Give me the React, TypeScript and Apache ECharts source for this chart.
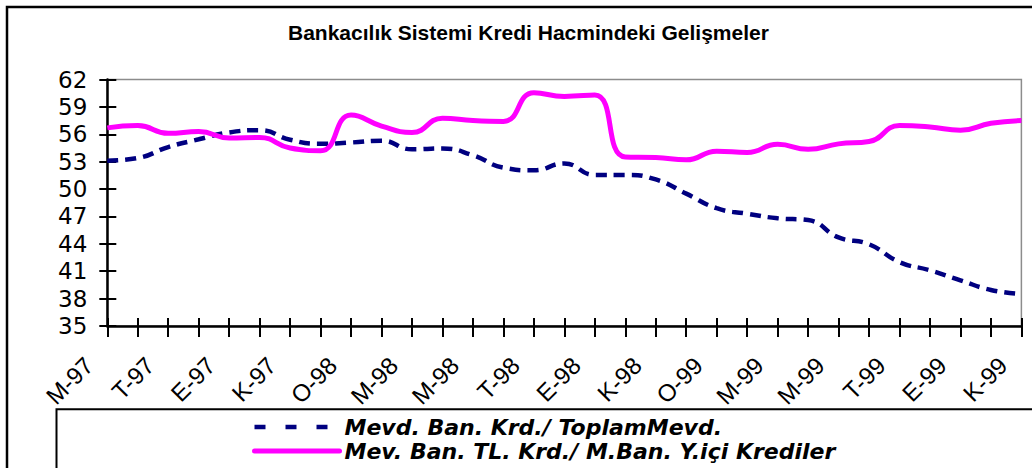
import React, { useEffect, useRef } from "react";
import * as echarts from "echarts";

const TITLE = "Bankacılık Sistemi Kredi Hacmindeki Gelişmeler";
const SERIES_A = "Mevd. Ban. Krd./ ToplamMevd.";
const SERIES_B = "Mev. Ban. TL. Krd./ M.Ban. Y.içi Krediler";

// Monthly categories, May-97 .. Nov-99 (Turkish month initials)
const months = [
  "M-97", "H-97", "T-97", "A-97", "E-97", "E-97", "K-97", "A-97",
  "O-98", "Ş-98", "M-98", "N-98", "M-98", "H-98", "T-98", "A-98", "E-98", "E-98", "K-98", "A-98",
  "O-99", "Ş-99", "M-99", "N-99", "M-99", "H-99", "T-99", "A-99", "E-99", "E-99", "K-99",
];

const mevdBanKrd = [
  53.1, 53.4, 54.6, 55.45, 56.2, 56.45, 55.4, 54.95, 55.1, 55.3, 54.35, 54.45,
  53.7, 52.35, 52.05, 52.8, 51.55, 51.55, 51.05, 49.5, 47.9, 47.3, 46.8, 46.6,
  44.7, 43.95, 42.0, 41.1, 40.0, 38.95, 38.5,
];

const mevBanTL = [
  56.7, 56.95, 56.1, 56.3, 55.6, 55.65, 54.5, 54.2, 58.1, 56.9, 56.2, 57.75,
  57.5, 57.4, 60.55, 60.15, 60.3, 53.5, 53.45, 53.2, 54.15, 54.0, 54.9, 54.35,
  54.95, 55.2, 56.95, 56.8, 56.45, 57.2, 57.5,
];

const yMin = 35;
const yMax = 62;
const yStep = 3;

const SANS = "'Liberation Sans', Arial, sans-serif";
const WIDE = "'DejaVu Sans', 'Liberation Sans', sans-serif";

export default function App() {
  const ref = useRef<HTMLDivElement>(null);

  useEffect(() => {
    document.body.style.margin = "0";
    const chart = echarts.init(ref.current as HTMLDivElement, null, { renderer: "svg" });
    const option: any = {
      animation: false,
      backgroundColor: "#ffffff",
      title: {
        text: TITLE,
        left: 288,
        top: 22,
        padding: 0,
        textStyle: { fontFamily: SANS, fontWeight: "bold", fontSize: 21, color: "#000" },
      },
      legend: {
        left: 252,
        top: 416,
        orient: "vertical",
        itemWidth: 85,
        itemHeight: 14,
        itemGap: 2,
        padding: 0,
        itemStyle: { opacity: 0 },
        textStyle: {
          fontFamily: WIDE,
          fontWeight: "bold",
          fontStyle: "italic",
          fontSize: 22,
          lineHeight: 22,
          color: "#000",
        },
        data: [
          {
            name: SERIES_A,
            itemStyle: { opacity: 0 },
            lineStyle: { type: [11, 20], width: 4.5, color: "#000080", cap: "butt" },
          },
          {
            name: SERIES_B,
            itemStyle: { opacity: 0 },
            lineStyle: { width: 5, color: "#ff00ff", cap: "round" },
          },
        ],
      },
      grid: {
        left: 107.3,
        right: 8.7,
        top: 79.5,
        bottom: 142,
        show: true,
        borderColor: "#8c8c8c",
        borderWidth: 1.5,
      },
      xAxis: [
        {
          type: "category",
          data: months,
          boundaryGap: false,
          position: "bottom",
          axisLine: { lineStyle: { color: "#000", width: 2.5 } },
          axisTick: { interval: 0, inside: false, length: 11, lineStyle: { color: "#000", width: 2 } },
          axisLabel: {
            interval: 1,
            rotate: 45,
            margin: 17,
            formatter: "{a|{value}}{s| }",
            rich: {
              a: { fontFamily: SANS, fontSize: 24, lineHeight: 24, color: "#000" },
              s: { width: 26, fontSize: 24, lineHeight: 24 },
            },
            fontFamily: SANS,
            fontSize: 24,
            lineHeight: 24,
            color: "#000",
          },
          splitLine: { show: false },
        },
        {
          type: "category",
          data: months,
          boundaryGap: false,
          position: "bottom",
          axisLine: { show: false },
          axisTick: { interval: 0, inside: true, length: 8, lineStyle: { color: "#000", width: 2 } },
          axisLabel: { show: false },
          splitLine: { show: false },
        },
      ],
      yAxis: [
        {
          type: "value",
          min: yMin,
          max: yMax,
          interval: yStep,
          position: "left",
          axisLine: { show: true, lineStyle: { color: "#000", width: 2.5 } },
          axisTick: { show: true, inside: false, length: 8, lineStyle: { color: "#000", width: 2 } },
          axisLabel: { margin: 20, fontFamily: WIDE, fontSize: 23, color: "#000" },
          splitLine: { show: false },
        },
        {
          type: "value",
          min: yMin,
          max: yMax,
          interval: yStep,
          position: "left",
          axisLine: { show: false },
          axisTick: { show: true, inside: true, length: 9, lineStyle: { color: "#000", width: 2 } },
          axisLabel: { show: false },
          splitLine: { show: false },
        },
      ],
      series: [
        {
          name: SERIES_A,
          type: "line",
          data: mevdBanKrd,
          smooth: 0.5,
          symbol: "none",
          lineStyle: { color: "#000080", width: 4.5, type: [11, 7], cap: "butt" },
          itemStyle: { color: "#000080" },
        },
        {
          name: SERIES_B,
          type: "line",
          data: mevBanTL,
          smooth: 0.5,
          symbol: "none",
          lineStyle: { color: "#ff00ff", width: 5 },
          itemStyle: { color: "#ff00ff" },
        },
      ],
      graphic: [
        {
          type: "rect",
          x: 7,
          y: 7,
          silent: true,
          shape: { x: 0, y: 0, width: 1200, height: 700 },
          style: { fill: "none", stroke: "#000", lineWidth: 2.5 },
        },
        {
          type: "rect",
          x: 56.5,
          y: 409.3,
          silent: true,
          shape: { x: 0, y: 0, width: 1200, height: 200 },
          style: { fill: "none", stroke: "#000", lineWidth: 2 },
        },
      ],
    };
    chart.setOption(option);
    return () => chart.dispose();
  }, []);

  return <div ref={ref} style={{ width: 1032, height: 468 }} />;
}
